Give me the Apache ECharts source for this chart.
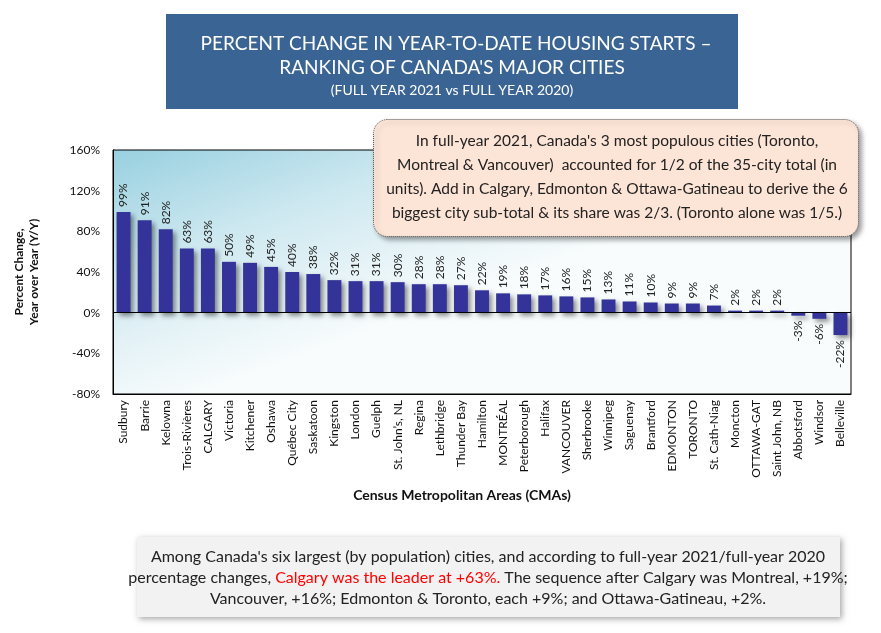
<!DOCTYPE html>
<html><head><meta charset="utf-8">
<script src="https://cdn.jsdelivr.net/npm/echarts@6/dist/echarts.min.js"></script>
<style>html,body{margin:0;padding:0;background:#fff}#c{width:881px;height:633px}</style>
</head><body><div id="c"></div>
<script>
const categories = ['Sudbury','Barrie','Kelowna','Trois-Rivières','CALGARY','Victoria','Kitchener','Oshawa','Québec City','Saskatoon','Kingston','London','Guelph','St. John’s, NL','Regina','Lethbridge','Thunder Bay','Hamilton','MONTRÉAL','Peterborough','Halifax','VANCOUVER','Sherbrooke','Winnipeg','Saguenay','Brantford','EDMONTON','TORONTO','St. Cath-Niag','Moncton','OTTAWA-GAT','Saint John, NB','Abbotsford','Windsor','Belleville'];
const values = [99,91,82,63,63,50,49,45,40,38,32,31,31,30,28,28,27,22,19,18,17,16,15,13,11,10,9,9,7,2,2,2,-3,-6,-22];
const yMin = -80, yMax = 160, yStep = 40;

const FONT = 'Lato, "Noto Sans", sans-serif';
const chart = echarts.init(document.getElementById('c'), null, {renderer:'canvas'});

const seriesData = values.map(v => v < 0 ? {
  value: v,
  label: {position: 'bottom', align: 'right'}
} : v);

const ctr = {align:'center', verticalAlign:'middle', textAlign:'center', textVerticalAlign:'middle'};
const G = {left:113, top:150, width:738, height:244};

chart.setOption({
  animation: false,
  textStyle: {fontFamily: FONT},
  grid: {
    left: G.left, right: 881 - G.left - G.width, top: G.top, bottom: 633 - G.top - G.height,
    outerBoundsMode: 'none', containLabel: false,
    show: true, borderColor: '#000', borderWidth: 1, backgroundColor: 'transparent'
  },
  xAxis: {
    type: 'category', data: categories,
    axisLine: {onZero: false, lineStyle: {color:'#000'}},
    axisTick: {show: false},
    axisLabel: {interval: 0, rotate: 90, color: '#111', fontSize: 12, fontFamily: FONT, margin: 6}
  },
  yAxis: {
    type: 'value', min: yMin, max: yMax, interval: yStep,
    axisLine: {show: true, lineStyle: {color:'#000'}},
    axisTick: {show: false},
    splitLine: {show: false},
    axisLabel: {formatter: '{value}%', color: '#111', fontSize: 12, margin: 13, fontFamily: FONT}
  },
  series: [{
    type: 'bar', data: seriesData, barWidth: '66%',
    itemStyle: {color: '#333399', shadowColor: 'rgba(0,0,0,0.45)', shadowBlur: 5, shadowOffsetX: 3, shadowOffsetY: 3},
    label: {show: true, position: 'top', rotate: 90, align: 'left', verticalAlign: 'middle', distance: 5,
      formatter: p => p.value + '%', color: '#222', fontSize: 12, fontFamily: FONT},
    markLine: {silent: true, symbol: 'none', label: {show: false},
      lineStyle: {color: '#000', type: 'solid', width: 1}, data: [{yAxis: 0}]}
  }],
  graphic: [
    {type:'rect', z:-10, silent:true, shape:{x:G.left, y:G.top, width:G.width, height:G.height},
      style:{fill: new echarts.graphic.LinearGradient(G.left, G.top, G.left + 90, G.top + G.height, [
        {offset:0, color:'#98D0E0'}, {offset:0.45, color:'#CDE8F0'}, {offset:0.75, color:'#E6F3F7'}, {offset:1, color:'#F8FCFD'}], true)}},
    {type:'text', x:27, y:272, rotation: Math.PI/2, z:51, style:Object.assign({text:'Percent Change,\nYear over Year (Y/Y)', fill:'#111', font:'bold 12px '+FONT, lineHeight:15}, ctr)},
    {type:'text', x:462, y:495, z:51, style:Object.assign({text:'Census Metropolitan Areas (CMAs)', fill:'#111', font:'bold 14px '+FONT}, ctr)},

    {type:'rect', left:166, top:14, shape:{width:572, height:95}, style:{fill:'#3A6494'}, z:50},
    {type:'text', x:456, y:44, z:51, style:Object.assign({text:'PERCENT CHANGE IN YEAR-TO-DATE HOUSING STARTS –', fill:'#fff', font:'19px '+FONT}, ctr)},
    {type:'text', x:452, y:68, z:51, style:Object.assign({text:"RANKING OF CANADA'S MAJOR CITIES", fill:'#fff', font:'19px '+FONT}, ctr)},
    {type:'text', x:452, y:90, z:51, style:Object.assign({text:'(FULL YEAR 2021 vs FULL YEAR 2020)', fill:'#fff', font:'14px '+FONT}, ctr)},

    {type:'rect', left:373, top:119, z:60, shape:{width:485, height:117, r:14},
      style:{fill:'#FCE4D6', stroke:'#555', lineWidth:1, lineDash:[1,1], shadowColor:'rgba(0,0,0,0.4)', shadowBlur:5, shadowOffsetX:3, shadowOffsetY:3}},
    {type:'text', x:617, y:177, z:61, style:Object.assign({text:"In full-year 2021, Canada's 3 most populous cities (Toronto,\nMontreal & Vancouver)  accounted for 1/2 of the 35-city total (in\nunits). Add in Calgary, Edmonton & Ottawa-Gatineau to derive the 6\nbiggest city sub-total & its share was 2/3. (Toronto alone was 1/5.)",
      fill:'#222', font:'15.5px '+FONT, lineHeight:24}, ctr)},

    {type:'rect', left:137, top:537, z:60, shape:{width:703, height:80},
      style:{fill:'#F2F2F2', shadowColor:'rgba(0,0,0,0.35)', shadowBlur:6, shadowOffsetX:2, shadowOffsetY:2}},
    {type:'text', x:488, y:578, z:61, style:Object.assign({text:"Among Canada's six largest (by population) cities, and according to full-year 2021/full-year 2020\npercentage changes, {r|Calgary was the leader at +63%.} The sequence after Calgary was Montreal, +19%;\nVancouver, +16%; Edmonton & Toronto, each +9%; and Ottawa-Gatineau, +2%.",
      fill:'#222', font:'16px '+FONT, lineHeight:21,
      rich:{r:{fill:'#FF0000', font:'16px '+FONT}}}, ctr)}
  ]
});
</script></body></html>
